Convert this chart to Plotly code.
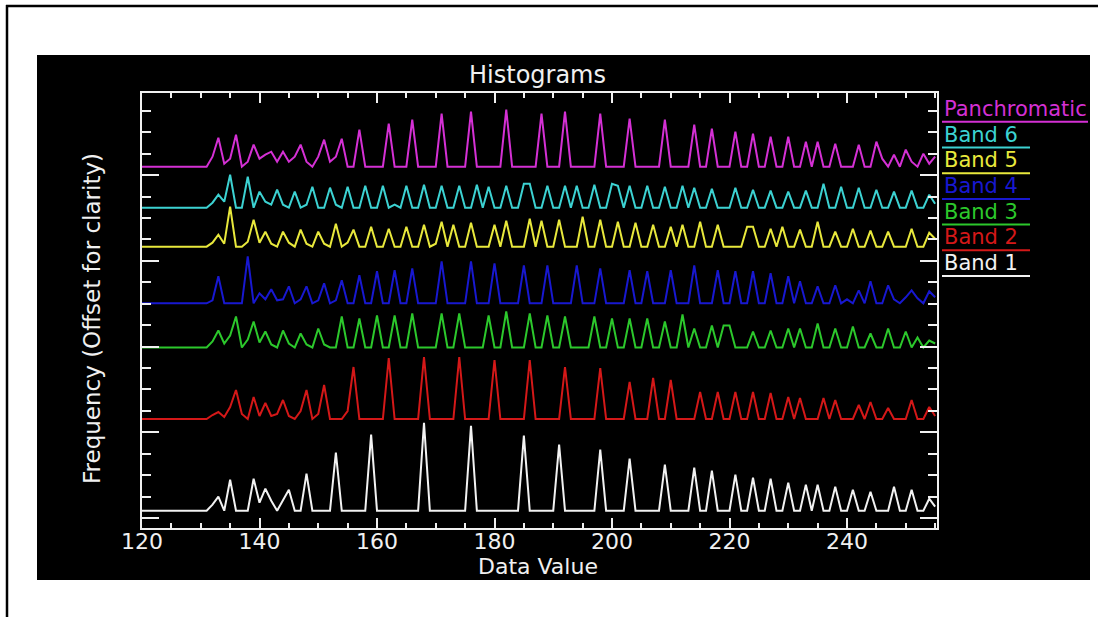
import plotly.graph_objects as go

# Histogram bins (data values) shared by every band
data_value = list(range(120, 256))

band1 = [0, 0, 0, 0, 0, 0, 0, 0, 0, 0,
         0, 0, 6, 14, 0, 31, 0, 0, 0, 32,
         8, 22, 10, 0, 10, 21, 0, 0, 37, 0,
         0, 0, 0, 58, 0, 0, 0, 0, 0, 76,
         0, 0, 0, 0, 0, 0, 0, 0, 88, 0,
         0, 0, 0, 0, 0, 0, 85, 0, 0, 0,
         0, 0, 0, 0, 0, 75, 0, 0, 0, 0,
         0, 66, 0, 0, 0, 0, 0, 0, 61, 0,
         0, 0, 0, 52, 0, 0, 0, 0, 0, 46,
         0, 0, 0, 0, 43, 0, 0, 40, 0, 0,
         0, 36, 0, 0, 33, 0, 0, 32, 0, 0,
         28, 0, 0, 26, 0, 26, 0, 0, 24, 0,
         0, 21, 0, 0, 19, 0, 0, 0, 24, 0,
         0, 21, 0, 0, 12, 4]

band2 = [0, 0, 0, 0, 0, 0, 0, 0, 0, 0,
         0, 0, 4, 7, 2, 12, 29, 5, 0, 22,
         3, 16, 3, 5, 19, 3, 0, 8, 29, 0,
         5, 34, 0, 0, 0, 8, 52, 0, 0, 0,
         0, 0, 61, 0, 0, 0, 0, 0, 62, 0,
         0, 0, 0, 0, 62, 0, 0, 0, 0, 0,
         59, 0, 0, 0, 0, 0, 59, 0, 0, 0,
         0, 0, 52, 0, 0, 0, 0, 0, 51, 0,
         0, 0, 0, 37, 0, 0, 0, 41, 0, 0,
         39, 0, 0, 0, 0, 27, 0, 0, 27, 0,
         0, 27, 0, 0, 27, 0, 0, 26, 0, 0,
         22, 0, 21, 0, 0, 0, 21, 0, 19, 0,
         0, 0, 14, 0, 17, 0, 0, 11, 0, 0,
         0, 19, 0, 0, 12, 3]

band3 = [0, 0, 0, 0, 0, 0, 0, 0, 0, 0,
         0, 0, 6, 17, 4, 12, 31, 0, 8, 26,
         5, 16, 3, 0, 17, 4, 0, 14, 3, 0,
         19, 3, 0, 0, 31, 0, 0, 29, 0, 0,
         32, 0, 0, 32, 0, 0, 34, 0, 0, 0,
         0, 34, 0, 0, 34, 0, 0, 0, 0, 32,
         0, 0, 36, 0, 0, 0, 34, 0, 0, 32,
         0, 0, 31, 0, 0, 0, 0, 31, 0, 0,
         29, 0, 0, 29, 0, 0, 29, 0, 0, 26,
         0, 0, 33, 0, 19, 0, 0, 22, 0, 22,
         22, 0, 0, 0, 16, 0, 0, 17, 0, 0,
         19, 0, 19, 0, 0, 24, 0, 0, 19, 0,
         0, 21, 0, 0, 14, 0, 0, 19, 0, 0,
         16, 0, 10, 0, 7, 4]

band4 = [0, 0, 0, 0, 0, 0, 0, 0, 0, 0,
         0, 0, 3, 27, 0, 0, 0, 0, 47, 0,
         10, 4, 14, 3, 4, 17, 0, 4, 17, 0,
         3, 20, 0, 3, 23, 0, 0, 28, 0, 0,
         32, 0, 0, 33, 0, 0, 35, 0, 0, 0,
         0, 42, 0, 0, 0, 0, 42, 0, 0, 0,
         40, 0, 0, 0, 0, 38, 0, 0, 0, 38,
         0, 0, 0, 0, 38, 0, 0, 0, 35, 0,
         0, 0, 0, 33, 0, 0, 32, 0, 0, 0,
         33, 0, 0, 0, 38, 0, 0, 0, 33, 0,
         0, 32, 0, 0, 32, 0, 0, 30, 0, 0,
         27, 0, 22, 0, 0, 17, 0, 0, 18, 0,
         4, 0, 13, 0, 22, 0, 0, 18, 4, 0,
         6, 13, 5, 0, 12, 6]

band5 = [0, 0, 0, 0, 0, 0, 0, 0, 0, 0,
         0, 0, 4, 12, 3, 40, 0, 0, 5, 27,
         4, 15, 3, 0, 15, 4, 0, 17, 3, 0,
         15, 3, 0, 23, 0, 4, 17, 0, 0, 20,
         0, 0, 18, 0, 0, 20, 0, 0, 22, 0,
         3, 25, 0, 22, 0, 0, 24, 0, 0, 0,
         22, 0, 26, 0, 0, 0, 28, 0, 26, 0,
         0, 27, 0, 0, 0, 30, 0, 0, 27, 0,
         0, 25, 0, 0, 24, 0, 0, 22, 0, 0,
         20, 0, 22, 0, 0, 25, 0, 0, 22, 0,
         0, 0, 0, 20, 20, 0, 0, 18, 0, 20,
         0, 0, 17, 0, 0, 25, 0, 0, 15, 0,
         0, 18, 0, 0, 16, 0, 0, 15, 0, 0,
         0, 18, 0, 0, 14, 8]

band6 = [0, 0, 0, 0, 0, 0, 0, 0, 0, 0,
         0, 0, 5, 13, 6, 33, 0, 0, 31, 0,
         16, 6, 3, 18, 3, 0, 16, 0, 3, 21,
         0, 0, 20, 3, 0, 21, 0, 0, 22, 0,
         0, 22, 0, 3, 0, 22, 0, 0, 23, 0,
         0, 22, 0, 0, 22, 0, 0, 23, 0, 21,
         0, 0, 22, 0, 0, 24, 24, 0, 0, 22,
         0, 0, 22, 0, 22, 0, 0, 23, 0, 0,
         24, 22, 0, 22, 0, 0, 22, 0, 0, 21,
         0, 0, 22, 0, 20, 0, 0, 19, 0, 0,
         0, 20, 0, 0, 18, 0, 0, 17, 0, 0,
         16, 0, 0, 17, 0, 0, 24, 0, 0, 21,
         0, 0, 20, 0, 0, 18, 0, 0, 16, 0,
         0, 17, 0, 0, 13, 4]

panchromatic = [0, 0, 0, 0, 0, 0, 0, 0, 0, 0,
                0, 0, 10, 29, 3, 8, 32, 0, 5, 22,
                8, 12, 15, 5, 15, 5, 10, 22, 5, 0,
                10, 27, 5, 10, 28, 0, 0, 37, 0, 0,
                0, 0, 43, 0, 0, 0, 47, 0, 0, 0,
                0, 53, 0, 0, 0, 0, 55, 0, 0, 0,
                0, 0, 57, 0, 0, 0, 0, 0, 53, 0,
                0, 0, 55, 0, 0, 0, 0, 0, 53, 0,
                0, 0, 0, 48, 0, 0, 0, 0, 0, 47,
                0, 0, 0, 0, 42, 0, 0, 38, 0, 0,
                0, 35, 0, 0, 33, 0, 0, 30, 0, 0,
                30, 0, 0, 25, 0, 25, 0, 0, 23, 0,
                0, 0, 22, 0, 0, 25, 8, 0, 12, 0,
                17, 5, 0, 13, 3, 10]

# Band names, their vertical offsets and plot colours (top of legend first)
band_names = ["Panchromatic", "Band 6", "Band 5", "Band 4", "Band 3", "Band 2", "Band 1"]
band_series = [panchromatic, band6, band5, band4, band3, band2, band1]
band_offsets = [361.3, 320.3, 281.3, 224.7, 180.5, 109.0, 17.3]
band_colors = ["#d430d4", "#3cd2d2", "#e8e83c", "#1818d0", "#2cc82c", "#d41818", "#f2f2f2"]

W, H = 1102, 617
L, R, T, B = 142, 937, 93, 528  # plot area in pixels
FONT = "DejaVu Sans"
AXIS_COLOR = "#f0f0f0"


def px_x(p):
    return (p - L) / (R - L)


def px_y(p):
    return (B - p) / (B - T)


fig = go.Figure()
for name, vals, off, col in zip(band_names, band_series, band_offsets, band_colors):
    fig.add_trace(go.Scatter(
        x=data_value, y=[v + off for v in vals], mode="lines", name=name,
        line=dict(color=col, width=2), showlegend=False, hoverinfo="skip"))

axis_common = dict(
    showline=True, linecolor=AXIS_COLOR, linewidth=2, mirror="ticks",
    ticks="inside", tickcolor=AXIS_COLOR, tickwidth=2,
    showgrid=False, zeroline=False,
)

fig.update_xaxes(
    range=[120, 255.32], tick0=120, dtick=20, ticklen=10,
    minor=dict(ticks="inside", dtick=5, tick0=120, ticklen=5, tickcolor=AXIS_COLOR, tickwidth=2),
    tickfont=dict(family=FONT, size=22, color=AXIS_COLOR), ticklabelstandoff=-7,
    **axis_common)
fig.update_yaxes(
    range=[0, 435], tick0=10, dtick=85.7, ticklen=17, showticklabels=False,
    minor=dict(ticks="inside", dtick=21.425, tick0=10, ticklen=9, tickcolor=AXIS_COLOR, tickwidth=2),
    **axis_common)

shapes = [
    # black panel behind the plot
    dict(type="rect", xref="paper", yref="paper", layer="below",
         x0=px_x(37), x1=px_x(1090), y0=px_y(580), y1=px_y(55),
         fillcolor="black", line=dict(width=0)),
    # page frame lines
    dict(type="line", xref="paper", yref="paper", x0=px_x(7), x1=px_x(7),
         y0=px_y(5), y1=px_y(640), line=dict(color="black", width=2.5)),
    dict(type="line", xref="paper", yref="paper", x0=px_x(6), x1=px_x(1098),
         y0=px_y(6), y1=px_y(6), line=dict(color="black", width=2.5)),
]

annotations = [
    dict(text="Histograms", x=px_x(537), y=px_y(75), xref="paper", yref="paper",
         showarrow=False, xanchor="center", yanchor="middle",
         font=dict(family=FONT, size=24, color=AXIS_COLOR)),
    dict(text="Data Value", x=px_x(538), y=px_y(566), xref="paper", yref="paper",
         showarrow=False, xanchor="center", yanchor="middle",
         font=dict(family=FONT, size=22, color=AXIS_COLOR)),
    dict(text="Frequency (Offset for clarity)", x=px_x(92), y=px_y(319),
         xref="paper", yref="paper", showarrow=False, textangle=-90,
         xanchor="center", yanchor="middle",
         font=dict(family=FONT, size=23, color=AXIS_COLOR)),
]

# Legend: coloured names with an underline in the same colour
for i, (name, col) in enumerate(zip(band_names, band_colors)):
    ty = 109 + 25.7 * i
    uy = ty + 12.8
    ux1 = 1088 if name == "Panchromatic" else 1030
    annotations.append(dict(
        text=name, x=px_x(942), y=px_y(ty), xref="paper", yref="paper",
        showarrow=False, xanchor="left", yanchor="middle",
        font=dict(family=FONT, size=21, color=col)))
    shapes.append(dict(type="line", xref="paper", yref="paper",
                       x0=px_x(942), x1=px_x(ux1), y0=px_y(uy), y1=px_y(uy),
                       line=dict(color=col, width=2)))

fig.update_layout(
    width=W, height=H, autosize=False,
    margin=dict(l=L, r=W - R, t=T, b=H - B, pad=0),
    paper_bgcolor="white", plot_bgcolor="black",
    shapes=shapes, annotations=annotations,
)

fig.write_html("out.html")
